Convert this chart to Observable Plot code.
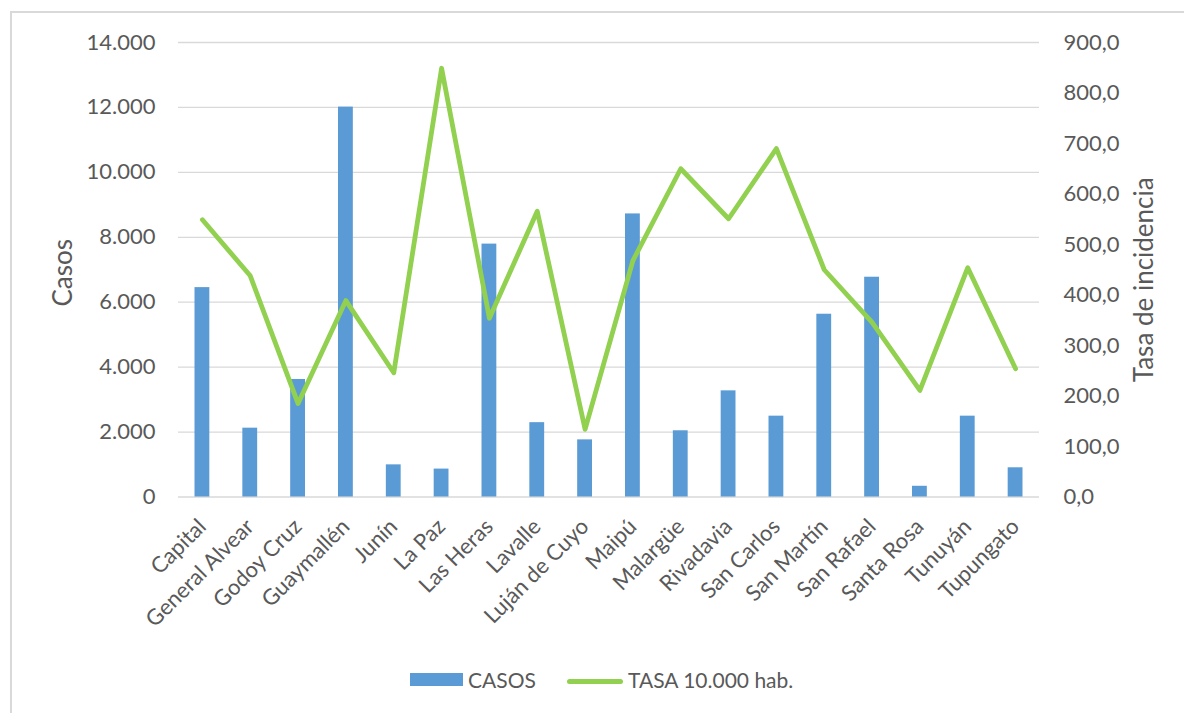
<!DOCTYPE html>
<html>
<head>
<meta charset="utf-8">
<script src="https://cdn.jsdelivr.net/npm/d3@7"></script>
<script src="https://cdn.jsdelivr.net/npm/@observablehq/plot@0.6"></script>
<style>
  html, body { margin: 0; padding: 0; background: #fff; }
  body { width: 1184px; height: 713px; position: relative; overflow: hidden; font-family: Lato, "Open Sans", sans-serif; color: #595959; }
  #frame { position: absolute; left: 10px; top: 11px; width: 1200px; height: 720px; border-top: 2px solid #d9d9d9; border-left: 2px solid #d9d9d9; box-sizing: border-box; }
  #chart { position: absolute; left: 0; top: 0; }
  #legend { position: absolute; left: 0; top: 664px; width: 1184px; height: 32px; font-size: 21px; }
  .sw-bar { position: absolute; left: 410px; top: 9px; width: 53px; height: 13px; background: #5b9bd5; }
  .lg-t1 { position: absolute; left: 468px; top: 2px; line-height: 28px; }
  .sw-line { position: absolute; left: 567px; top: 15px; width: 56px; height: 4.5px; border-radius: 3px; background: #92d050; }
  .lg-t2 { position: absolute; left: 628px; top: 2px; line-height: 28px; }
</style>
</head>
<body>
<div id="frame"></div>
<div id="chart"></div>
<div id="legend">
  <div class="sw-bar"></div><div class="lg-t1">CASOS</div>
  <div class="sw-line"></div><div class="lg-t2">TASA 10.000 hab.</div>
</div>
<script>
const categories = ["Capital", "General Alvear", "Godoy Cruz", "Guaymallén", "Junín", "La Paz", "Las Heras", "Lavalle", "Luján de Cuyo", "Maipú", "Malargüe", "Rivadavia", "San Carlos", "San Martín", "San Rafael", "Santa Rosa", "Tunuyán", "Tupungato"];
const casos = [6450, 2120, 3620, 12010, 990, 860, 7790, 2290, 1760, 8720, 2040, 3270, 2490, 5630, 6770, 330, 2490, 900];
const tasa = [549, 438, 185, 389, 246, 849, 354, 566, 134, 468, 650, 551, 690, 450, 346, 211, 454, 254];
const leftTicks = [0, 2000, 4000, 6000, 8000, 10000, 12000, 14000];
const rightTicks = [0, 100, 200, 300, 400, 500, 600, 700, 800, 900];
const leftLabel = "Casos";
const rightLabel = "Tasa de incidencia";

const locale = d3.formatLocale({decimal: ",", thousands: ".", grouping: [3], currency: ["$", ""]});
const fmtLeft = locale.format(",.0f");
const fmtRight = locale.format(",.1f");

const leftMax = 14000, rightMax = 900;
const k = leftMax / rightMax;

const data = categories.map((c, i) => ({cat: c, casos: casos[i], tasa: tasa[i]}));

const chart = Plot.plot({
  width: 1184,
  height: 640,
  marginTop: 42,
  marginBottom: 143.5,
  marginLeft: 178,
  marginRight: 145,
  style: {fontFamily: "Lato, 'Open Sans', sans-serif", fontSize: "22px", color: "#595959", background: "transparent", overflow: "visible"},
  x: {domain: categories, paddingInner: 0.69, paddingOuter: 0.345, round: false, label: null},
  y: {domain: [0, leftMax], label: null},
  marks: [
    Plot.gridY(leftTicks, {stroke: "#d9d9d9", strokeOpacity: 1, strokeWidth: 1.3}),
    Plot.barY(data, {x: "cat", y: "casos", fill: "#5b9bd5"}),
    Plot.lineY(data, {x: "cat", y: d => d.tasa * k, stroke: "#92d050", strokeWidth: 4.8, strokeLinejoin: "round", strokeLinecap: "round"}),
    Plot.axisY(leftTicks, {anchor: "left", tickSize: 0, tickPadding: 23, tickFormat: fmtLeft, label: null, fill: "#595959", fontSize: 22}),
    Plot.axisY(rightTicks.map(v => v * k), {anchor: "right", tickSize: 0, tickPadding: 24, tickFormat: v => fmtRight(v / k), label: null, fill: "#595959", fontSize: 22}),
    Plot.axisX({tickSize: 0, tickRotate: -45, tickPadding: 26, label: null, fill: "#595959", fontSize: 22}),
    Plot.text([leftLabel], {frameAnchor: "left", dx: -115, dy: 3, rotate: -90, textAnchor: "middle", fill: "#595959", fontSize: 26}),
    Plot.text([rightLabel], {frameAnchor: "right", dx: 105, dy: 10, rotate: -90, textAnchor: "middle", fill: "#595959", fontSize: 26})
  ]
});
document.getElementById("chart").appendChild(chart);
</script>
</body>
</html>
